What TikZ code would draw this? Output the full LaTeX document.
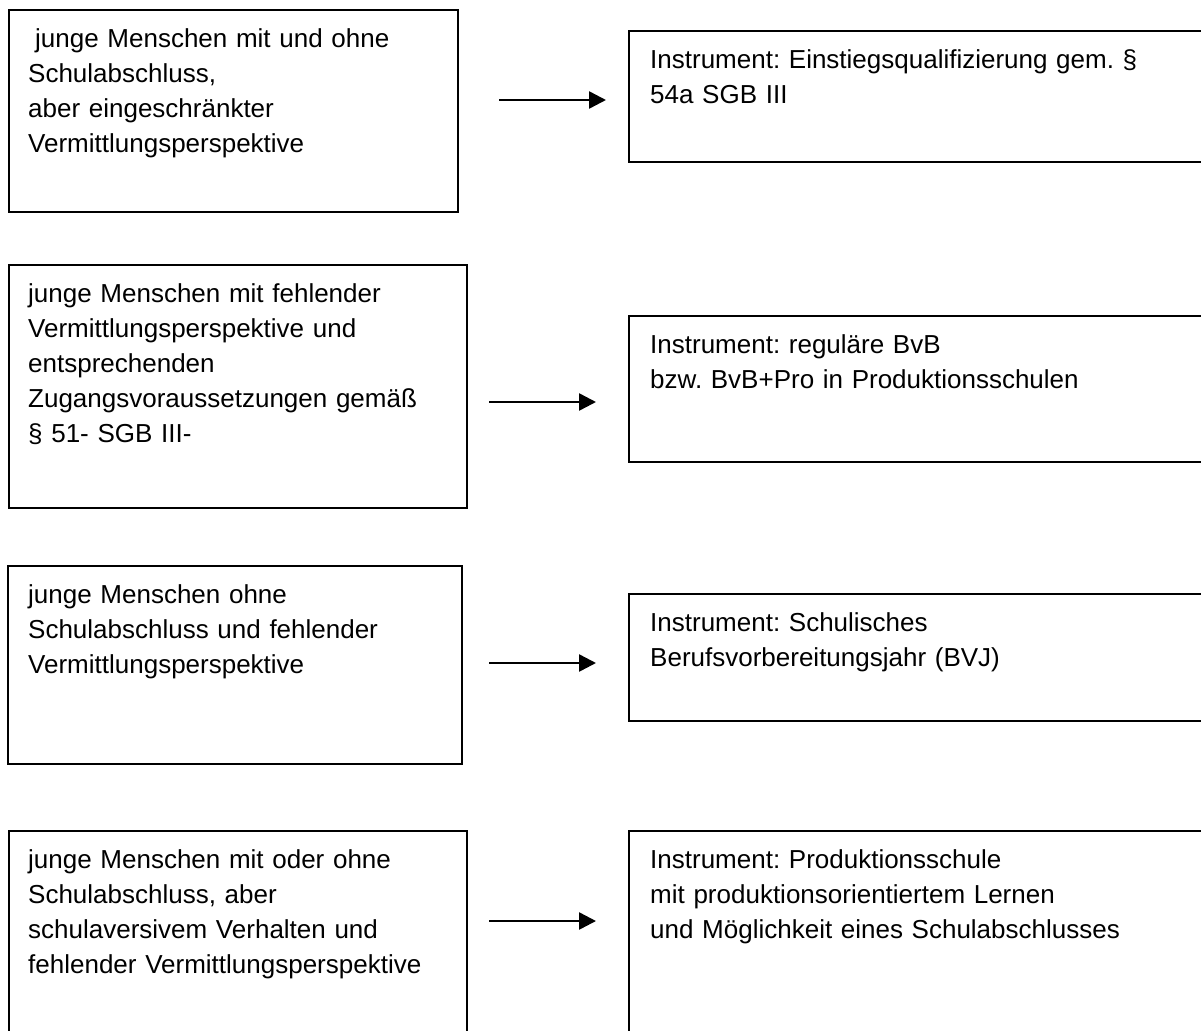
\documentclass[tikz,border=0pt]{standalone}
\usepackage{fontspec}
\setmainfont{Liberation Sans}
\usetikzlibrary{arrows.meta}
\frenchspacing
\begin{document}
\begin{tikzpicture}[x=1pt,y=-1pt,
  leftbox/.style={draw=black,line width=2.2pt,outer sep=0pt,anchor=north west,inner sep=0pt},
  rightbox/.style={draw=black,line width=1.8pt,outer sep=0pt,anchor=north west,inner sep=0pt},
  boxtext/.style={anchor=north west,inner sep=0pt,align=left,text width=#1,
    font=\fontsize{26}{35}\selectfont\frenchspacing,execute at begin node=\strut},
  boxtext/.default=440pt,
  conn/.style={line width=2.5pt,-{Triangle[length=17pt,width=17pt]}}]
\useasboundingbox (0,0) rectangle (1201,1030);
\clip (0,0) rectangle (1201,1030);
\fill[white] (0,0) rectangle (1201,1030);

% row 1
\node[leftbox,minimum width=449pt,minimum height=202pt] (l1) at (9,10) {};
\node[rightbox,minimum width=590pt,minimum height=131pt] (r1) at (629,31) {};
\node[boxtext,xshift=19pt,yshift=-12.5pt] (tl1) at (l1.north west)
  {\hspace*{7pt}junge Menschen mit und ohne\\Schulabschluss,\\aber eingeschränkter\\Vermittlungsperspektive};
\node[boxtext=560pt,xshift=21pt,yshift=-12.5pt] (tr1) at (r1.north west)
  {Instrument: Einstiegsqualifizierung gem. §\\54a SGB III};
\coordinate (a1s) at (499,100);
\coordinate (a1e) at (606,100);
\draw[conn] (a1s) -- (a1e);

% row 2
\node[leftbox,minimum width=458pt,minimum height=243pt] (l2) at (9,265) {};
\node[rightbox,minimum width=590pt,minimum height=146pt] (r2) at (629,316) {};
\node[boxtext,xshift=19pt,yshift=-12.5pt] (tl2) at (l2.north west)
  {junge Menschen mit fehlender\\Vermittlungsperspektive und\\entsprechenden\\Zugangsvoraussetzungen gemäß\\§ 51- SGB III-};
\node[boxtext=560pt,xshift=21pt,yshift=-12.5pt] (tr2) at (r2.north west)
  {Instrument: reguläre BvB\\bzw. BvB+Pro in Produktionsschulen};
\coordinate (a2s) at (489,402);
\coordinate (a2e) at (596,402);
\draw[conn] (a2s) -- (a2e);

% row 3
\node[leftbox,minimum width=454pt,minimum height=198pt] (l3) at (8,566) {};
\node[rightbox,minimum width=590pt,minimum height=127pt] (r3) at (629,594) {};
\node[boxtext,xshift=20pt,yshift=-12.5pt] (tl3) at (l3.north west)
  {junge Menschen ohne\\Schulabschluss und fehlender\\Vermittlungsperspektive};
\node[boxtext=560pt,xshift=21pt,yshift=-12.5pt] (tr3) at (r3.north west)
  {Instrument: Schulisches\\Berufsvorbereitungsjahr (BVJ)};
\coordinate (a3s) at (489,663);
\coordinate (a3e) at (596,663);
\draw[conn] (a3s) -- (a3e);

% row 4
\node[leftbox,minimum width=458pt,minimum height=230pt] (l4) at (9,831) {};
\node[rightbox,minimum width=590pt,minimum height=230pt] (r4) at (629,831) {};
\node[boxtext,xshift=19pt,yshift=-12.5pt] (tl4) at (l4.north west)
  {junge Menschen mit oder ohne\\Schulabschluss, aber\\schulaversivem Verhalten und\\fehlender Vermittlungsperspektive};
\node[boxtext=560pt,xshift=21pt,yshift=-12.5pt] (tr4) at (r4.north west)
  {Instrument: Produktionsschule\\mit produktionsorientiertem Lernen\\und Möglichkeit eines Schulabschlusses};
\coordinate (a4s) at (489,921);
\coordinate (a4e) at (596,921);
\draw[conn] (a4s) -- (a4e);
\end{tikzpicture}
\end{document}
